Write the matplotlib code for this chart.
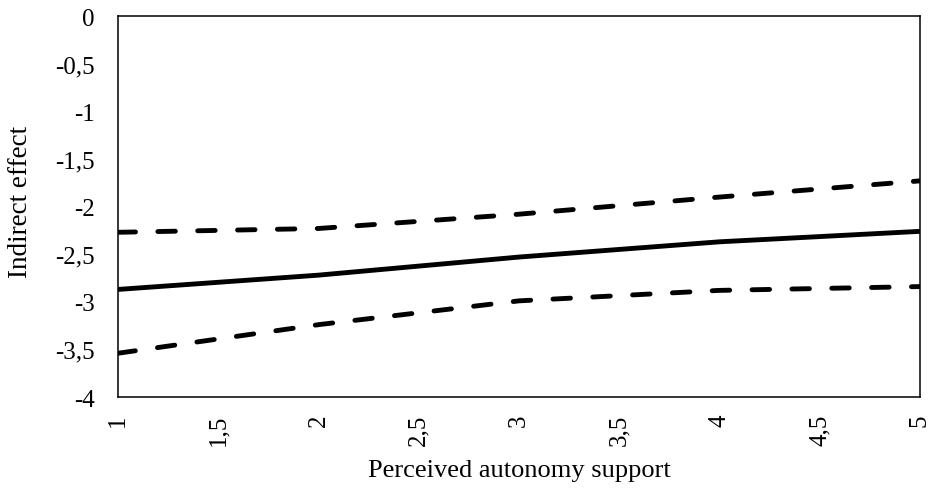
import matplotlib.pyplot as plt
from matplotlib.ticker import FuncFormatter

plt.rcParams['font.family'] = ['Liberation Serif', 'DejaVu Serif']

support = [1, 2, 3, 4, 5]
effect = [-2.87, -2.72, -2.53, -2.37, -2.26]
upper_ci = [-2.27, -2.23, -2.08, -1.90, -1.73]
lower_ci = [-3.54, -3.24, -2.99, -2.88, -2.84]

x_ticks = [1, 1.5, 2, 2.5, 3, 3.5, 4, 4.5, 5]
y_ticks = [0, -0.5, -1, -1.5, -2, -2.5, -3, -3.5, -4]


def comma(v, pos):
    return ('%g' % v).replace('.', ',')


fig = plt.figure(figsize=(9.32, 4.89), dpi=100)
ax = fig.add_axes([0.1266, 0.186, 0.8604, 0.779])

ax.plot(support, effect, color='black', lw=3.5, solid_capstyle='butt')
for ci in (upper_ci, lower_ci):
    ax.plot(support, ci, color='black', lw=3.5, dashes=(3.6, 4.6),
            dash_capstyle='round')

ax.set_xlim(1, 5)
ax.set_ylim(-4, 0)
ax.set_xticks(x_ticks)
ax.set_yticks(y_ticks)
ax.xaxis.set_major_formatter(FuncFormatter(comma))
ax.yaxis.set_major_formatter(FuncFormatter(comma))
ax.tick_params(length=0, labelsize=18)
ax.tick_params(axis='x', labelrotation=90, pad=12)
ax.tick_params(axis='y', pad=17)
for s in ax.spines.values():
    s.set_linewidth(1.1)

ax.set_xlabel('Perceived autonomy support', fontsize=19, labelpad=10)
ax.set_ylabel('Indirect effect', fontsize=19.5)
ax.yaxis.set_label_coords(-0.106, 0.514)

fig.savefig('out.png')
